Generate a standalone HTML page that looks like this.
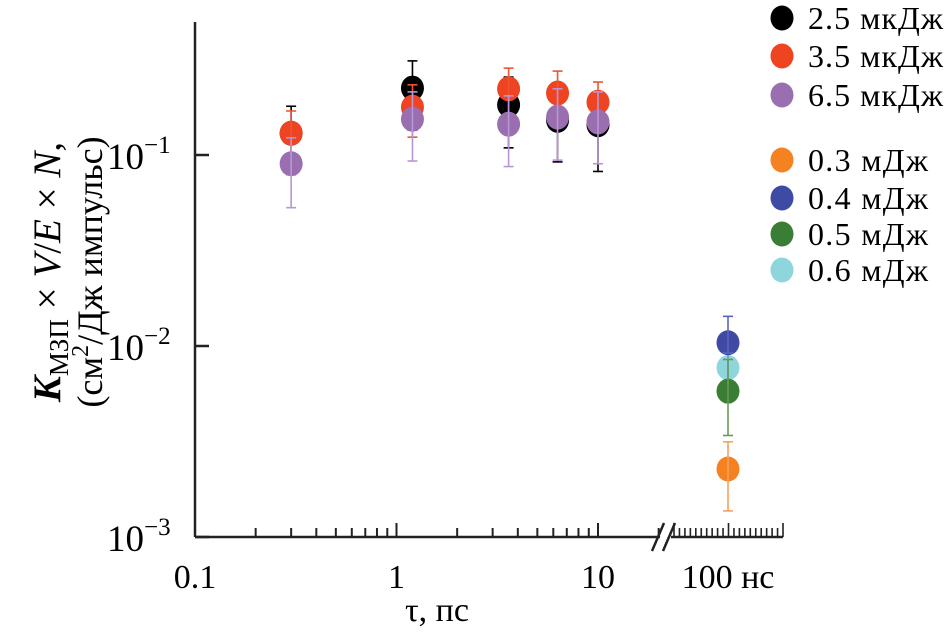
<!DOCTYPE html>
<html><head><meta charset="utf-8"><style>
body{margin:0;background:#fff}
svg{display:block;font-family:"Liberation Serif","DejaVu Serif",serif}
</style></head><body>
<svg id="chart" width="944" height="636" viewBox="0 0 944 636">
<g id="axes"></g>
<g id="marks"></g>
<g id="legend"></g>
<text x="437" y="621" font-size="34" text-anchor="middle">τ, пс</text>
<g transform="translate(60,272) rotate(-90)">
<text x="0" y="0" font-size="39" text-anchor="middle"><tspan font-style="italic" font-weight="bold">K</tspan><tspan font-size="27" dy="8">МЗП</tspan><tspan dy="-8"> × </tspan><tspan font-style="italic">V</tspan>/<tspan font-style="italic">E</tspan> × <tspan font-style="italic">N</tspan>,</text>
<text x="0" y="42" font-size="36" text-anchor="middle">(см<tspan font-size="24" dy="-14">2</tspan><tspan dy="14">/Дж импульс)</tspan></text>
</g>
</svg>
<script>
const psTimes=[0.3,1.2,3.6,6.3,10];
const black=[0.130,0.224,0.183,0.152,0.144];
const blackHi=[0.180,0.311,0.256,0.216,0.196];
const blackLo=[0.079,0.135,0.109,0.092,0.082];
const red=[0.130,0.178,0.222,0.211,0.189];
const redHi=[0.170,0.233,0.285,0.275,0.241];
const redLo=[0.092,0.124,0.156,0.149,0.140];
const purple=[0.090,0.154,0.145,0.158,0.149];
const purpleHi=[0.123,0.214,0.204,0.222,0.214];
const purpleLo=[0.053,0.093,0.087,0.094,0.090];
const nsLabels=["0.3 мДж","0.4 мДж","0.5 мДж","0.6 мДж"];
const nsValues=[0.00227,0.0104,0.0058,0.0077];
const nsHi=[0.00315,0.0143,0.0085,0.0092];
const nsLo=[0.00137,0.0092,0.0034,0.0062];
const psLabels=["2.5 мкДж","3.5 мкДж","6.5 мкДж"];
const xTickLabels=["0.1","1","10"];
const yTickExps=[-1,-2,-3];

const NS="http://www.w3.org/2000/svg";
function mk(t,a,p){const e=document.createElementNS(NS,t);for(const k in a)e.setAttribute(k,a[k]);p.appendChild(e);return e;}
const X0=195,DEC=201.5,YB=537,YD=191;
const xs=t=>X0+DEC*Math.log10(t/0.1);
const ys=v=>YB-YD*(Math.log10(v)+3);
const xNs=728;
const axes=document.getElementById('axes'),marks=document.getElementById('marks'),leg=document.getElementById('legend');
let l=mk('line',{x1:X0,y1:22,x2:X0,y2:YB,stroke:'#222','stroke-width':2.5},axes);

l=mk('polyline',{points:`${X0},${YB} 660,${YB}`,fill:'none',stroke:'#222','stroke-width':2.5},axes);

l=mk('line',{x1:671,y1:YB,x2:783,y2:YB,stroke:'#222','stroke-width':2.5},axes);

for(const dx of [0,11]){l=mk('line',{x1:652+dx,y1:YB+14,x2:664+dx,y2:YB-14,stroke:'#222','stroke-width':2.5},axes);
}
for(let d=0;d<3;d++){const base=0.1*Math.pow(10,d);
 for(let m=1;m<10;m++){const x=xs(base*m);if(x>660)continue;
  l=mk('line',{x1:x,y1:YB,x2:x,y2:YB-(m==1?14:9),stroke:'#222','stroke-width':2},axes);
  }}
for(let i=0;i<=20;i++){const x=674+i*5.45;
 l=mk('line',{x1:x,y1:YB,x2:x,y2:YB-(i%10==0?14:9),stroke:'#222','stroke-width':1.6},axes);
 }
xTickLabels.forEach((s,i)=>{const t=mk('text',{x:xs(0.1*Math.pow(10,i)),y:588,'font-size':34,'text-anchor':'middle'},axes);t.textContent=s;
 });
let t=mk('text',{x:xNs,y:588,'font-size':34,'text-anchor':'middle'},axes);t.textContent='100 нс';

yTickExps.forEach(e=>{const y=ys(Math.pow(10,e));
 l=mk('line',{x1:X0,y1:y,x2:X0+14,y2:y,stroke:'#222','stroke-width':2.5},axes);
 
 const tx=mk('text',{x:107,y:y+14,'font-size':37},axes);
 tx.innerHTML=`10<tspan font-size="25" dy="-16">−${-e}</tspan>`;
 });
function point(x,v,hi,lo,fill,ec,name){
 const g=mk('g',{},marks);
 
 mk('ellipse',{cx:x,cy:ys(v),rx:11.5,ry:12.5,fill:fill},g);
 mk('line',{x1:x,y1:ys(hi),x2:x,y2:ys(lo),stroke:ec,'stroke-width':1.6},g);
 for(const vv of [hi,lo])mk('line',{x1:x-5,y1:ys(vv),x2:x+5,y2:ys(vv),stroke:ec,'stroke-width':1.6},g);
}
const psSeries=[[black,blackHi,blackLo,'#000','#000'],[red,redHi,redLo,'#ee4422','#ee5533'],[purple,purpleHi,purpleLo,'#9a6fb0','#b896d6']];
psSeries.forEach((s,k)=>psTimes.forEach((tm,i)=>point(xs(tm),s[0][i],s[1][i],s[2][i],s[3],s[4],'point-ps-'+k)));
const nsColors=['#f58220','#3f4aa5','#3a7d34','#8fd5dc'];
const nsErr=['#f5a060','#5a64c0','#6a9a5a','#6aa0c0'];
[0,3,2,1].forEach(i=>point(xNs,nsValues[i],nsHi[i],nsLo[i],nsColors[i],nsErr[i],'point-ns-'+i));
const legRows=[[psLabels[0],'#000',18],[psLabels[1],'#ee4422',56],[psLabels[2],'#9a6fb0',95],[nsLabels[0],'#f58220',160],[nsLabels[1],'#3f4aa5',198],[nsLabels[2],'#3a7d34',234],[nsLabels[3],'#8fd5dc',270]];
legRows.forEach(r=>{const g=mk('g',{},leg);
 
 mk('ellipse',{cx:782,cy:r[2],rx:11.5,ry:12.5,fill:r[1]},g);
 const tx=mk('text',{x:808,y:r[2]+11,'font-size':32,textLength:r[0].length>7?135:120},g);tx.textContent=r[0];});
</script>
</body></html>
